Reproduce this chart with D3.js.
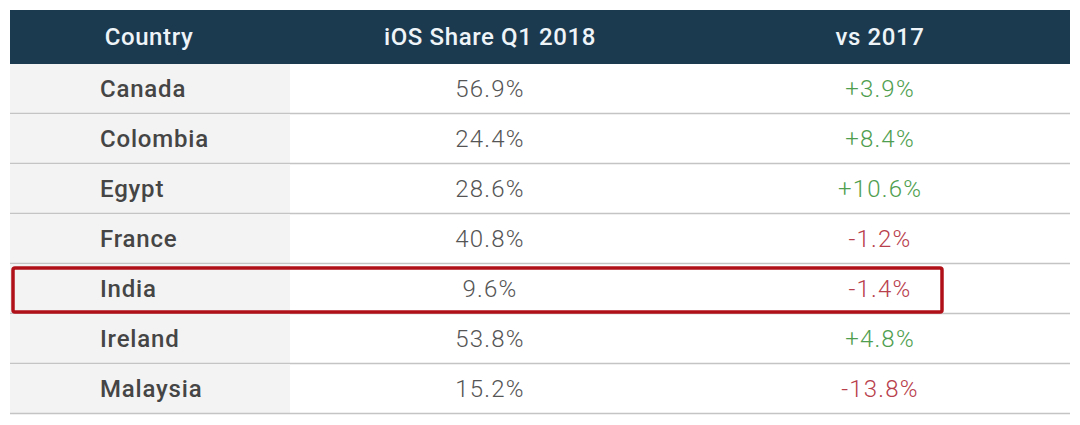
<!DOCTYPE html>
<html>
<head>
<meta charset="utf-8">
<script src="https://cdn.jsdelivr.net/npm/d3@7"></script>
<style>
  body { margin: 0; background: #ffffff; }
  svg { display: block; }
</style>
</head>
<body>
<div id="chart"></div>
<script>
// ---- data ----
var columns = ["Country", "iOS Share Q1 2018", "vs 2017"];
var countries = ["Canada", "Colombia", "Egypt", "France", "India", "Ireland", "Malaysia"];
var share2018 = [56.9, 24.4, 28.6, 40.8, 9.6, 53.8, 15.2];
var change2017 = [3.9, 8.4, 10.6, -1.2, -1.4, 4.8, -13.8];
var highlighted = ["India"];

var width = 1080, height = 425;
var left = 10, right = 1070;
var headerTop = 10, headerBottom = 64, tableBottom = 414;

var svg = d3.select("#chart").append("svg")
  .attr("width", width)
  .attr("height", height)
  .style("font-family", "Roboto, 'Noto Sans', sans-serif");

var y = d3.scaleBand()
  .domain(countries)
  .range([headerBottom, tableBottom]);

// column centers (first column text is left aligned)
var colX = d3.scaleOrdinal()
  .domain(columns)
  .range([149, 490, 880]);

var firstColRight = 290;

// header
svg.append("rect")
  .attr("x", left).attr("y", headerTop)
  .attr("width", right - left).attr("height", headerBottom - headerTop)
  .attr("fill", "#1b3a50");

svg.selectAll(".head")
  .data(columns)
  .enter().append("text")
  .attr("class", "head")
  .attr("x", function(d) { return colX(d); })
  .attr("y", (headerTop + headerBottom) / 2)
  .attr("dy", "0.35em")
  .attr("text-anchor", "middle")
  .attr("font-size", "24px")
  .attr("font-weight", 500)
  .attr("letter-spacing", "0.6px")
  .attr("fill", "#eef4f8")
  .text(function(d) { return d; });

// rows
var rows = svg.selectAll(".row")
  .data(countries)
  .enter().append("g")
  .attr("class", "row")
  .attr("transform", function(d) { return "translate(0," + y(d) + ")"; });

rows.append("rect")
  .attr("x", left).attr("y", 0)
  .attr("width", firstColRight - left)
  .attr("height", y.bandwidth())
  .attr("fill", "#f3f3f3");

rows.append("line")
  .attr("x1", left).attr("x2", right)
  .attr("y1", y.bandwidth() - 0.5).attr("y2", y.bandwidth() - 0.5)
  .attr("stroke", "#c4c4c4")
  .attr("stroke-width", 1.5);

rows.append("text")
  .attr("x", 100)
  .attr("y", y.bandwidth() / 2)
  .attr("dy", "0.35em")
  .attr("font-size", "24px")
  .attr("font-weight", 500)
  .attr("letter-spacing", "0.8px")
  .attr("fill", "#454545")
  .text(function(d) { return d; });

rows.append("text")
  .attr("x", colX(columns[1]))
  .attr("y", y.bandwidth() / 2)
  .attr("dy", "0.35em")
  .attr("text-anchor", "middle")
  .attr("font-size", "24px")
  .attr("font-weight", 300)
  .attr("letter-spacing", "1.2px")
  .attr("fill", "#555555")
  .text(function(d, i) { return share2018[i].toFixed(1) + "%"; });

rows.append("text")
  .attr("x", colX(columns[2]))
  .attr("y", y.bandwidth() / 2)
  .attr("dy", "0.35em")
  .attr("text-anchor", "middle")
  .attr("font-size", "24px")
  .attr("font-weight", 300)
  .attr("letter-spacing", "1.2px")
  .attr("fill", function(d, i) { return change2017[i] >= 0 ? "#4f9e4f" : "#b8404c"; })
  .text(function(d, i) { var v = change2017[i]; return (v >= 0 ? "+" : "-") + Math.abs(v).toFixed(1) + "%"; });

// highlight box
svg.selectAll(".highlight")
  .data(highlighted)
  .enter().append("rect")
  .attr("class", "highlight")
  .attr("x", 13)
  .attr("y", function(d) { return y(d) + 4; })
  .attr("width", 929)
  .attr("height", y.bandwidth() - 6)
  .attr("rx", 2)
  .attr("fill", "none")
  .attr("stroke", "#b01018")
  .attr("stroke-width", 3.5);
</script>
</body>
</html>
